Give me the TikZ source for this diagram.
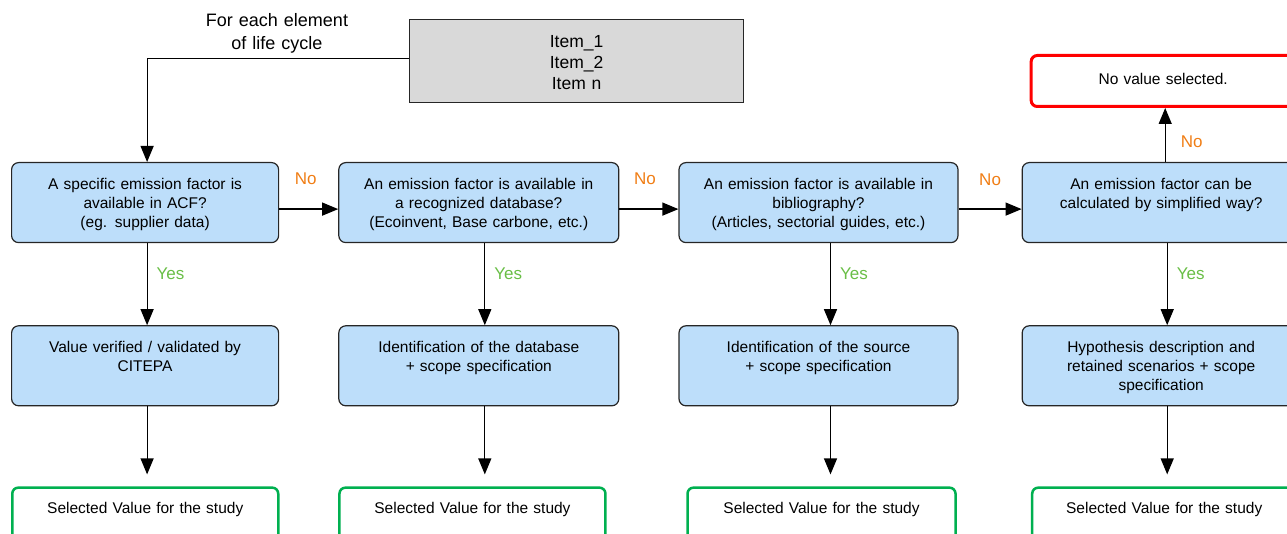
\documentclass[tikz,border=0pt]{standalone}
\usepackage{fontspec}
\setmainfont{Liberation Sans}
\usepackage{tikz}
\usetikzlibrary{calc,positioning,arrows.meta}

\definecolor{askblue}{RGB}{189,222,250}
\definecolor{itemgray}{RGB}{217,217,217}
\definecolor{nocol}{RGB}{240,125,20}
\definecolor{yescol}{RGB}{105,190,70}
\definecolor{okgreen}{RGB}{0,176,80}
\definecolor{stopred}{RGB}{255,0,0}

\tikzset{
	ask/.style={draw=black!85, line width=1.2pt, fill=askblue, rounded corners=7pt, align=center, inner sep=0pt, text height=27pt, text depth=53pt, font=\fontsize{15.5}{19}\selectfont},
	pick/.style={draw=okgreen, line width=2.5pt, fill=white, rounded corners=6pt, align=center, inner sep=0pt, text height=26pt, text depth=36pt, font=\fontsize{15.5}{19}\selectfont},
	stop/.style={draw=stopred, line width=3pt, fill=white, rounded corners=6pt, align=center, inner sep=0pt, text height=29pt, text depth=22pt, font=\fontsize{15.5}{19}\selectfont},
	items/.style={draw=black!85, line width=1.2pt, fill=itemgray, align=center, inner sep=0pt, text height=28pt, text depth=55pt, font=\fontsize{17.5}{21}\selectfont},
	note/.style={align=center, inner sep=0pt, font=\fontsize{18}{23}\selectfont},
	no/.style={text=nocol, inner sep=0pt, font=\fontsize{17}{20}\selectfont},
	yes/.style={text=yescol, inner sep=0pt, font=\fontsize{17}{20}\selectfont},
	arr/.style={-{Triangle[length=16pt,width=13pt]}, line width=1.2pt}
}

\begin{document}
\begin{tikzpicture}[x=1pt,y=-1pt]
		\useasboundingbox (0,0) rectangle (1287,534);
		\node(0) [items, text width=334pt, anchor=north west] at (409,19) {Item\_1\\Item\_2\\Item n};
		\node(14) [note, text width=200pt, anchor=base] at (277,27) {For each element\\of life cycle};
		\node(1) [ask, text width=267pt, anchor=north west] at (11,162) {A specific emission factor is\\available in ACF?\\(eg. supplier data)};
		\node(2) [ask, text width=280pt, right=59pt of 1] {An emission factor is available in\\a recognized database?\\(Ecoinvent, Base carbone, etc.)};
		\node(3) [ask, text width=279pt, right=59pt of 2] {An emission factor is available in\\bibliography?\\(Articles, sectorial guides, etc.)};
		\node(4) [ask, text width=278pt, right=63pt of 3] {An emission factor can be\\calculated by simplified way?};
		\node(5) [ask, text width=267pt, below=82pt of 1] {Value verified / validated by\\CITEPA};
		\node(6) [ask, text width=280pt, below=82pt of 2] {Identification of the database\\+ scope specification};
		\node(7) [ask, text width=279pt, below=82pt of 3] {Identification of the source\\+ scope specification};
		\node(8) [ask, text width=278pt, below=82pt of 4] {Hypothesis description and\\retained scenarios + scope\\specification};
		\node(9) [pick, text width=266pt, below=80pt of 5.south west, anchor=north west] {Selected Value for the study};
		\node(10) [pick, text width=266pt, below=80pt of 6.south west, anchor=north west] {Selected Value for the study};
		\node(11) [pick, text width=268pt, below=80pt of 7.south, anchor=north, xshift=3pt] {Selected Value for the study};
		\node(12) [pick, text width=264pt, below=80pt of 8.south, anchor=north, xshift=3pt] {Selected Value for the study};
		\node(13) [stop, text width=264pt, above=54pt of 4.north, anchor=south, xshift=2pt] {No value selected.};
		\draw[arr] ([yshift=2.5pt]0.west) -| ([xshift=2pt]1.north);
		\draw[arr] ([yshift=-6.5pt]1.east) -- ([yshift=-6.5pt]2.west) node[no, midway, above=24pt, xshift=-3pt] {No};
		\draw[arr] ([yshift=-6.5pt]2.east) -- ([yshift=-6.5pt]3.west) node[no, midway, above=24pt, xshift=-4pt] {No};
		\draw[arr] ([yshift=-6.5pt]3.east) -- ([yshift=-6.5pt]4.west) node[no, midway, above=23pt] {No};
		\draw[arr] ([xshift=4pt]4.north) -- ([xshift=4pt]4.north |- 13.south) node[no, pos=0.38, right=15pt] {No};
		\draw[arr] ([xshift=2pt]1.south) -- ([xshift=2pt]5.north) node[yes, pos=0.37, right=9pt] {Yes};
		\draw[arr] ([xshift=6pt]2.south) -- ([xshift=6pt]6.north) node[yes, pos=0.37, right=9pt] {Yes};
		\draw[arr] ([xshift=12pt]3.south) -- ([xshift=12pt]7.north) node[yes, pos=0.37, right=9pt] {Yes};
		\draw[arr] ([xshift=6pt]4.south) -- ([xshift=6pt]8.north) node[yes, pos=0.37, right=9pt] {Yes};
		\draw[arr, shorten >=12pt] ([xshift=2pt]5.south) -- ([xshift=2pt]5.south |- 9.north);
		\draw[arr, shorten >=12pt] ([xshift=6pt]6.south) -- ([xshift=6pt]6.south |- 10.north);
		\draw[arr, shorten >=12pt] ([xshift=12pt]7.south) -- ([xshift=12pt]7.south |- 11.north);
		\draw[arr, shorten >=12pt] ([xshift=6pt]8.south) -- ([xshift=6pt]8.south |- 12.north);
	\end{tikzpicture}
\end{document}
